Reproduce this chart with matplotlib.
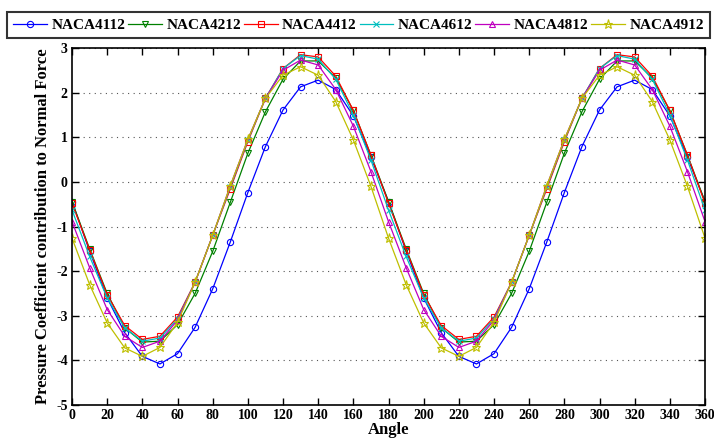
import matplotlib
matplotlib.use("Agg")
import matplotlib.pyplot as plt

plt.rcParams['font.family'] = ['Liberation Serif', 'DejaVu Serif']
plt.rcParams['font.weight'] = 'bold'
plt.rcParams['axes.unicode_minus'] = False

angle = list(range(0, 361, 10))

naca4112_half = [-0.44, -1.55, -2.60, -3.38, -3.91, -4.08, -3.85, -3.26, -2.40, -1.35,
                 -0.24, 0.79, 1.61, 2.13, 2.28, 2.07, 1.48, 0.55]
naca4212_half = [-0.44, -1.50, -2.50, -3.27, -3.59, -3.57, -3.20, -2.50, -1.56, -0.46,
                 0.64, 1.57, 2.30, 2.71, 2.71, 2.33, 1.60, 0.60]
naca4412_half = [-0.48, -1.52, -2.53, -3.22, -3.53, -3.46, -3.03, -2.25, -1.20, -0.16,
                 0.90, 1.87, 2.54, 2.85, 2.80, 2.37, 1.60, 0.60]
naca4612_half = [-0.63, -1.67, -2.60, -3.27, -3.57, -3.50, -3.07, -2.25, -1.20, -0.12,
                 0.93, 1.87, 2.54, 2.83, 2.75, 2.30, 1.50, 0.49]
naca4812_half = [-0.89, -1.92, -2.86, -3.46, -3.71, -3.57, -3.10, -2.25, -1.20, -0.09,
                 0.95, 1.87, 2.50, 2.73, 2.62, 2.07, 1.25, 0.23]
naca4912_half = [-1.26, -2.30, -3.16, -3.72, -3.91, -3.71, -3.15, -2.25, -1.20, -0.09,
                 0.95, 1.87, 2.39, 2.58, 2.39, 1.80, 0.94, -0.10]

naca4112 = naca4112_half + naca4112_half + naca4112_half[:1]
naca4212 = naca4212_half + naca4212_half + naca4212_half[:1]
naca4412 = naca4412_half + naca4412_half + naca4412_half[:1]
naca4612 = naca4612_half + naca4612_half + naca4612_half[:1]
naca4812 = naca4812_half + naca4812_half + naca4812_half[:1]
naca4912 = naca4912_half + naca4912_half + naca4912_half[:1]

series = [
    ("NACA4112", naca4112, '#0000ff', 'o'),
    ("NACA4212", naca4212, '#008000', 'v'),
    ("NACA4412", naca4412, '#ff0000', 's'),
    ("NACA4612", naca4612, '#00bfbf', 'x'),
    ("NACA4812", naca4812, '#bf00bf', '^'),
    ("NACA4912", naca4912, '#bfbf00', '*'),
]

fig = plt.figure(figsize=(7.14, 4.42), dpi=100)
ax = fig.add_axes([72/714, 1 - 405/442, 633/714, 357/442])

for name, vals, color, mk in series:
    ax.plot(angle, vals, color=color, marker=mk, markersize=4.5 if mk != '*' else 6.5,
            markerfacecolor='none', markeredgecolor=color, linewidth=0.9,
            markeredgewidth=0.8, label=name)

ax.set_xlim(0, 360)
ax.set_ylim(-5, 3)
ax.set_xticks(range(0, 361, 20))
ax.set_yticks(range(-5, 4))
ax.yaxis.grid(True, linestyle=(0, (1, 4)), color='#555555', linewidth=0.8)
ax.tick_params(direction='in', top=True, right=True, labelsize=10, length=5, width=1,
               pad=3)
for lab in ax.get_xticklabels() + ax.get_yticklabels():
    lab.set_fontweight('bold')
for sp in ax.spines.values():
    sp.set_linewidth(1.2)

ax.set_xlabel('Angle', fontsize=12, fontweight='bold', labelpad=0)
ax.set_ylabel('Pressure Coefficient contribution to Normal Force', fontsize=12,
              fontweight='bold', labelpad=4)

leg = fig.legend(loc='lower left', bbox_to_anchor=(7/714, 1 - 38/442, 703/714, 28/442),
                 mode='expand', ncol=6, frameon=True, fancybox=False,
                 prop={'family': ['Liberation Serif'], 'weight': 'bold', 'size': 11},
                 handlelength=2.2, handletextpad=0.3, columnspacing=0.8, borderaxespad=0)
leg.get_frame().set_edgecolor('black')
leg.get_frame().set_linewidth(1.5)

fig.savefig('out.png', dpi=100)
